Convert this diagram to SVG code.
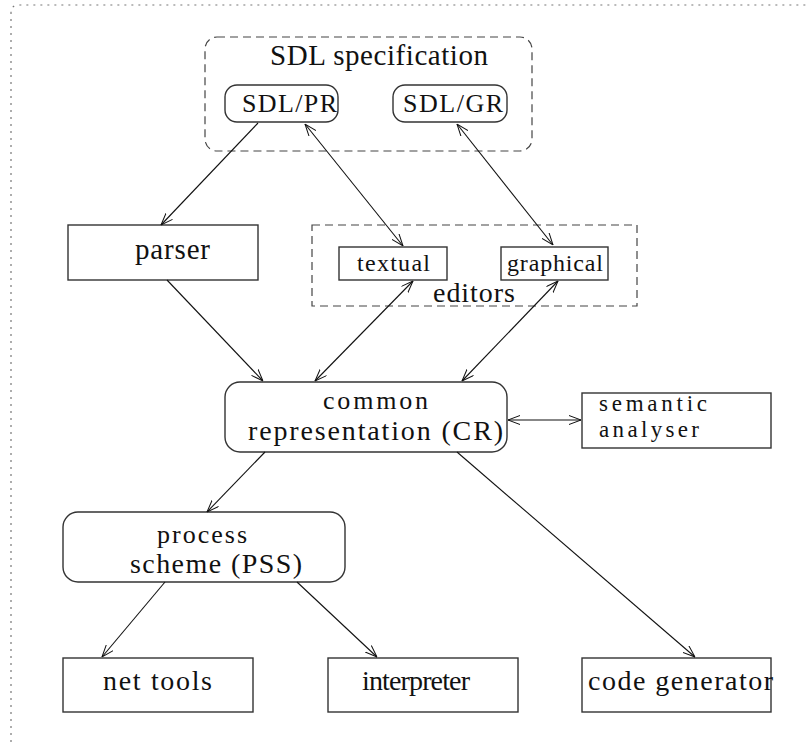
<svg xmlns="http://www.w3.org/2000/svg" width="807" height="754" viewBox="0 0 807 754">
  <defs>
    <marker id="arr" viewBox="0 0 12 10" refX="12" refY="5" markerWidth="12" markerHeight="10" markerUnits="userSpaceOnUse" orient="auto-start-reverse">
      <path d="M0,0.5 L12,5 L0,9.5" fill="none" stroke="#111" stroke-width="1"/>
    </marker>
  </defs>
  <style>
    .box { fill: #fff; stroke: #333; stroke-width: 1.4; }
    .dash { fill: none; stroke: #444; stroke-width: 1.2; stroke-dasharray: 8 5; }
    .frame { fill: none; stroke: #777; stroke-width: 1.2; stroke-dasharray: 2 5; }
    text { font-family: "Liberation Serif", "DejaVu Serif", "Times New Roman", Times, serif; fill: #111; }
    .f29 { font-size: 29px; }
    .f28 { font-size: 28px; }
    .f26 { font-size: 26px; }
    .f24 { font-size: 24px; }
    .f23 { font-size: 23px; }
    .conn line { stroke: #111; stroke-width: 1.1; }
  </style>
  <rect width="807" height="754" fill="#fff"/>

  <!-- outer frame -->
  <path class="frame" d="M11,742 V13 Q11,5 19,5 H807"/>

  <!-- SDL specification group -->
  <g id="sdl-spec">
    <rect class="dash" x="205" y="37" width="327" height="114" rx="12"/>
    <text class="f29" x="270" y="65" textLength="218" lengthAdjust="spacing">SDL specification</text>
  </g>
  <g id="sdl-pr">
    <rect class="box" x="225" y="85" width="113" height="37" rx="12"/>
    <text class="f26" x="242" y="112" textLength="95" lengthAdjust="spacing">SDL/PR</text>
  </g>
  <g id="sdl-gr">
    <rect class="box" x="393" y="85" width="114" height="37" rx="12"/>
    <text class="f26" x="403" y="112" textLength="100" lengthAdjust="spacing">SDL/GR</text>
  </g>

  <g id="parser">
    <rect class="box" x="68" y="225" width="190" height="55"/>
    <text class="f29" x="135" y="259" textLength="75" lengthAdjust="spacing">parser</text>
  </g>

  <!-- editors group -->
  <g id="editors">
    <rect class="dash" x="312" y="225" width="325" height="81"/>
    <text class="f28" x="433" y="302" textLength="82" lengthAdjust="spacing">editors</text>
  </g>
  <g id="textual">
    <rect class="box" x="339" y="247" width="108" height="33"/>
    <text class="f24" x="357" y="271" textLength="73" lengthAdjust="spacing">textual</text>
  </g>
  <g id="graphical">
    <rect class="box" x="501" y="247" width="107" height="33"/>
    <text class="f24" x="507" y="271" textLength="96" lengthAdjust="spacing">graphical</text>
  </g>

  <g id="cr">
    <rect class="box" x="225" y="382" width="282" height="70" rx="15"/>
    <text class="f26" x="323" y="409" textLength="105" lengthAdjust="spacing">common</text>
    <text class="f28" x="248" y="440" textLength="255" lengthAdjust="spacing">representation (CR)</text>
  </g>

  <g id="semantic">
    <rect class="box" x="582" y="393" width="189" height="55"/>
    <text class="f23" x="599" y="411" textLength="108" lengthAdjust="spacing">semantic</text>
    <text class="f23" x="599" y="437" textLength="100" lengthAdjust="spacing">analyser</text>
  </g>

  <g id="pss">
    <rect class="box" x="63" y="512" width="282" height="70" rx="15"/>
    <text class="f26" x="157" y="543" textLength="90" lengthAdjust="spacing">process</text>
    <text class="f28" x="130" y="573" textLength="172" lengthAdjust="spacing">scheme (PSS)</text>
  </g>

  <g id="net-tools">
    <rect class="box" x="63" y="658" width="190" height="54"/>
    <text class="f28" x="103" y="690" textLength="109" lengthAdjust="spacing">net tools</text>
  </g>
  <g id="interpreter">
    <rect class="box" x="328" y="658" width="190" height="54"/>
    <text class="f28" x="362" y="690" textLength="108" lengthAdjust="spacing">interpreter</text>
  </g>
  <g id="code-generator">
    <rect class="box" x="582" y="658" width="189" height="54"/>
    <text class="f28" x="588" y="690" textLength="185" lengthAdjust="spacing">code generator</text>
  </g>

  <!-- connectors -->
  <g id="connectors" class="conn">
    <line x1="258" y1="123" x2="161" y2="225" marker-end="url(#arr)"/>
    <line x1="305" y1="124" x2="403" y2="246" marker-start="url(#arr)" marker-end="url(#arr)"/>
    <line x1="457" y1="124" x2="553" y2="245" marker-start="url(#arr)" marker-end="url(#arr)"/>
    <line x1="167" y1="280" x2="263" y2="381" marker-end="url(#arr)"/>
    <line x1="413" y1="281" x2="315" y2="381" marker-start="url(#arr)" marker-end="url(#arr)"/>
    <line x1="558" y1="281" x2="462" y2="381" marker-start="url(#arr)" marker-end="url(#arr)"/>
    <line x1="508" y1="420" x2="581" y2="420" marker-start="url(#arr)" marker-end="url(#arr)"/>
    <line x1="265" y1="452" x2="207" y2="512" marker-end="url(#arr)"/>
    <line x1="457" y1="452" x2="695" y2="657" marker-end="url(#arr)"/>
    <line x1="165" y1="582" x2="102" y2="657" marker-end="url(#arr)"/>
    <line x1="297" y1="582" x2="377" y2="657" marker-end="url(#arr)"/>
  </g>
</svg>
